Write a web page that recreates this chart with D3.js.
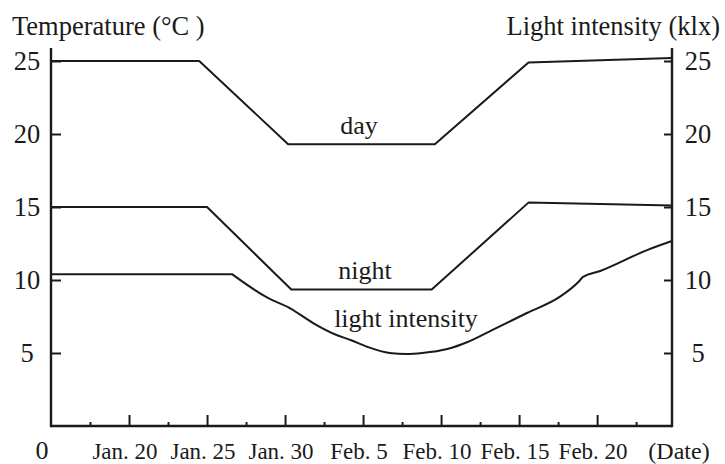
<!DOCTYPE html>
<html>
<head>
<meta charset="utf-8">
<script src="https://cdn.jsdelivr.net/npm/d3@7"></script>
<style>
  html, body { margin: 0; padding: 0; background: #fff; }
  svg { display: block; }
</style>
</head>
<body>
<svg id="chart" width="725" height="464"></svg>
<script>
// Positions along the date axis are counted in days from the origin (Jan. 15),
// with each labelled tick five days apart.
const dayX      = [0, 9.5, 15.2, 24.6, 30.6, 39.8];
const dayTemp   = [25, 25, 19.3, 19.3, 24.9, 25.2];

const nightX    = [0, 10.0, 15.4, 24.4, 30.6, 39.8];
const nightTemp = [15, 15, 9.35, 9.35, 15.3, 15.1];

const lightX    = [0, 11.6, 13.9, 15.3, 16.8, 18.3, 19.2, 20.3, 21.7, 22.8, 23.8, 25.4, 26.7, 28.3, 30.5, 32.6, 33.8, 34.1, 35.2, 38.2, 39.8];
const lightKlx  = [10.4, 10.4, 8.77, 8.08, 7.05, 6.23, 5.89, 5.41, 5.0, 4.93, 5.0, 5.27, 5.75, 6.58, 7.74, 8.84, 9.86, 10.21, 10.62, 12.05, 12.67];

const dateTicks  = [5, 10, 15, 20, 25, 30, 35];
const dateLabels = ["Jan. 20", "Jan. 25", "Jan. 30", "Feb. 5", "Feb. 10", "Feb. 15", "Feb. 20"];
const minorTicks = [2.5, 7.5, 12.5, 17.5, 22.5, 27.5, 32.5, 37.5];
const valueTicks = [5, 10, 15, 20, 25];

const serif = '"Liberation Serif"';
const svg = d3.select("#chart");
const ink = "#1a1a1a";

const x = d3.scaleLinear().domain([0, 39.8]).range([51, 672]);
const y = d3.scaleLinear().domain([0, 25]).range([426, 61]);

// Frame: left, right and bottom axis lines
const frame = svg.append("g").attr("stroke", ink).attr("stroke-width", 2.4).attr("fill", "none");
frame.append("line").attr("x1", x(0)).attr("x2", x(0)).attr("y1", 48).attr("y2", y(0) + 1.2);
frame.append("line").attr("x1", x(39.8)).attr("x2", x(39.8)).attr("y1", 48).attr("y2", y(0) + 1.2);
frame.append("line").attr("x1", x(0)).attr("x2", x(39.8)).attr("y1", y(0)).attr("y2", y(0));

// Left axis (temperature), ticks pointing inward
const leftAxis = d3.axisRight(y).tickValues(valueTicks).tickSize(10).tickFormat("");
const gl = svg.append("g").attr("transform", `translate(${x(0)},0)`).call(leftAxis);
gl.select(".domain").remove();
gl.selectAll(".tick line").attr("stroke", ink).attr("stroke-width", 2);

// Right axis (light intensity), ticks pointing inward
const rightAxis = d3.axisLeft(y).tickValues(valueTicks).tickSize(8).tickFormat("");
const gr = svg.append("g").attr("transform", `translate(${x(39.8)},0)`).call(rightAxis);
gr.select(".domain").remove();
gr.selectAll(".tick line").attr("stroke", ink).attr("stroke-width", 2);

// Every label gets the serif face set directly on its own element
const label = (sel, size) => sel.style("font-family", serif).attr("font-size", size).attr("fill", ink);

// Value labels on both sides
svg.append("g").selectAll("text").data(valueTicks).join("text")
  .call(label, 26.5)
  .attr("x", 27).attr("y", d => y(d)).attr("dy", "0.35em")
  .attr("text-anchor", "middle").text(d => d);
svg.append("g").selectAll("text").data(valueTicks).join("text")
  .call(label, 26.5)
  .attr("x", 698).attr("y", d => y(d)).attr("dy", "0.35em")
  .attr("text-anchor", "middle").text(d => d);

// Bottom axis: major and minor ticks pointing up
const bottomMajor = d3.axisTop(x).tickValues(dateTicks).tickSize(11).tickFormat("");
const gb = svg.append("g").attr("transform", `translate(0,${y(0)})`).call(bottomMajor);
gb.select(".domain").remove();
gb.selectAll(".tick line").attr("stroke", ink).attr("stroke-width", 2);

const bottomMinor = d3.axisTop(x).tickValues(minorTicks).tickSize(4).tickFormat("");
const gm = svg.append("g").attr("transform", `translate(0,${y(0)})`).call(bottomMinor);
gm.select(".domain").remove();
gm.selectAll(".tick line").attr("stroke", ink).attr("stroke-width", 2);

// Date labels
svg.append("g").selectAll("text").data(dateTicks).join("text")
  .call(label, 23)
  .attr("x", d => x(d) - 4).attr("y", 459)
  .attr("text-anchor", "middle")
  .text((d, i) => dateLabels[i]);
svg.append("text").call(label, 26).attr("x", 42).attr("y", 459).attr("text-anchor", "middle").text("0");
svg.append("text").call(label, 24).attr("x", 679).attr("y", 459).attr("text-anchor", "middle").text("(Date)");

// Axis titles
svg.append("text").call(label, 26.5).attr("x", 12).attr("y", 35).text("Temperature (°C )");
svg.append("text").call(label, 26.5).attr("x", 720).attr("y", 35).attr("text-anchor", "end").text("Light intensity (klx)");

// Series
const line = d3.line().x(d => x(d[0])).y(d => y(d[1]));
const smooth = d3.line().x(d => x(d[0])).y(d => y(d[1])).curve(d3.curveMonotoneX);

const series = svg.append("g").attr("fill", "none").attr("stroke", ink).attr("stroke-width", 2)
  .attr("stroke-linejoin", "round");
series.append("path").attr("d", line(d3.zip(dayX, dayTemp)));
series.append("path").attr("d", line(d3.zip(nightX, nightTemp)));

// Light intensity: level stretch, then a smooth dip and recovery from the corner on
const lightPts = d3.zip(lightX, lightKlx);
series.append("path").attr("d", line(lightPts.slice(0, 2)) + smooth(lightPts.slice(1)).replace(/^M/, "L"));

// Series names
svg.append("text").call(label, 26).attr("x", 359).attr("y", 134).attr("text-anchor", "middle").text("day");
svg.append("text").call(label, 26).attr("x", 365).attr("y", 279).attr("text-anchor", "middle").text("night");
svg.append("text").call(label, 26).attr("x", 406).attr("y", 327).attr("text-anchor", "middle").text("light intensity");
</script>
</body>
</html>
